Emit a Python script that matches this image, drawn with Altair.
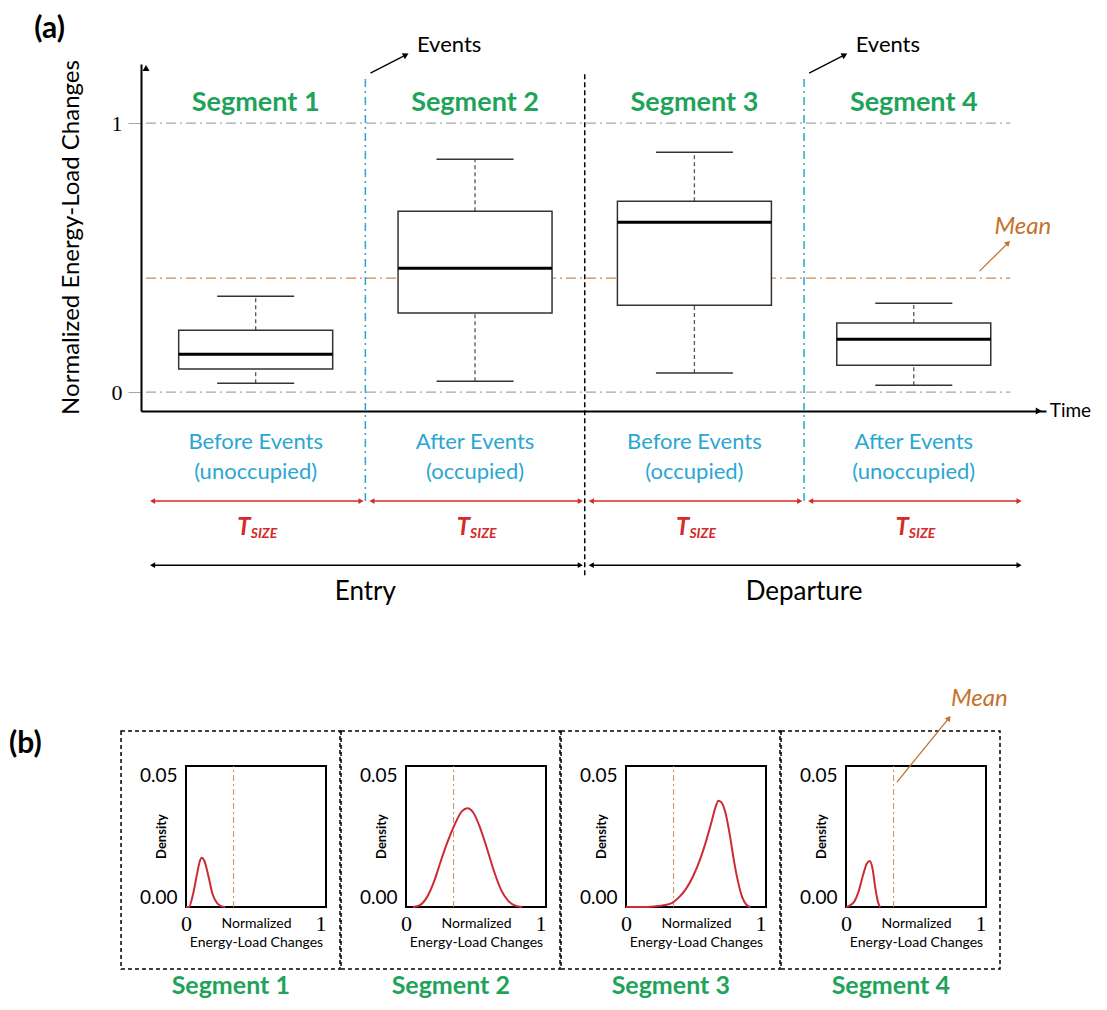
import altair as alt
import pandas as pd

FONT = "Lato, 'Open Sans', sans-serif"
SERIF = "'Liberation Serif', 'DejaVu Serif', serif"
GREEN = "#1fa35b"
BLUE = "#2ba6d3"
RED = "#d42a2a"
CURVE = "#cc2a36"
ORANGE = "#c4722c"
MEANLINE = "#c98a55"
GRID = "#a6a6a6"

# ---------------- data (a) ----------------
segments = ["Segment 1", "Segment 2", "Segment 3", "Segment 4"]
seg_center = [0.5, 1.5, 2.5, 3.5]
whisker_low = [0.033, 0.041, 0.071, 0.026]
q1 = [0.086, 0.294, 0.323, 0.100]
median = [0.141, 0.461, 0.632, 0.197]
q3 = [0.230, 0.673, 0.710, 0.257]
whisker_high = [0.357, 0.866, 0.892, 0.331]
mean_value = 0.424
y_ticks = [0, 1]
state_line1 = ["Before Events", "After Events", "Before Events", "After Events"]
state_line2 = ["(unoccupied)", "(occupied)", "(occupied)", "(unoccupied)"]
phases = ["Entry", "Departure"]
phase_start = [0, 2]
phase_end = [2, 4]
event_times = [1, 3]
phase_break = [2]

# ---------------- data (b) ----------------
density_mean = 0.34
dens1_x = [0.0, 0.02, 0.05, 0.08, 0.10, 0.113, 0.13, 0.16, 0.19, 0.22, 0.25, 0.28]
dens1_y = [0.0, 0.0, 0.0045, 0.012, 0.0165, 0.0175, 0.0165, 0.011, 0.0045, 0.0015, 0.0003, 0.0]
dens2_x = [0.05, 0.10, 0.15, 0.20, 0.25, 0.30, 0.35, 0.40, 0.44, 0.48, 0.53, 0.58, 0.63, 0.68, 0.73, 0.78, 0.83]
dens2_y = [0.0, 0.0007, 0.0035, 0.009, 0.0165, 0.0235, 0.0295, 0.034, 0.035, 0.0335, 0.028, 0.0205, 0.0125, 0.006, 0.0022, 0.0005, 0.0]
dens3_x = [0.0, 0.10, 0.20, 0.28, 0.33, 0.38, 0.43, 0.48, 0.53, 0.57, 0.61, 0.64, 0.66, 0.68, 0.71, 0.74, 0.77, 0.80, 0.83, 0.86, 0.89]
dens3_y = [0.0, 0.0, 0.0002, 0.0007, 0.0015, 0.0035, 0.0065, 0.011, 0.017, 0.023, 0.030, 0.0355, 0.0377, 0.0372, 0.0335, 0.026, 0.0167, 0.009, 0.0035, 0.0008, 0.0]
dens4_x = [0.0, 0.03, 0.06, 0.09, 0.12, 0.15, 0.17, 0.19, 0.21, 0.23, 0.245]
dens4_y = [0.0, 0.0006, 0.002, 0.0055, 0.011, 0.0155, 0.0163, 0.0135, 0.0065, 0.0015, 0.0]
dens_x = [dens1_x, dens2_x, dens3_x, dens4_x]
dens_y = [dens1_y, dens2_y, dens3_y, dens4_y]

# ---------------- panel (a) ----------------
XS = alt.Scale(domain=[0, 4.08], nice=False, zero=False)
YS = alt.Scale(domain=[-0.07, 1.22], nice=False, zero=False)
AX_X = alt.Axis(labels=False, ticks=False, grid=False, domainColor="black",
                domainWidth=2, title=None)
AX_Y = alt.Axis(values=y_ticks, format="d", grid=False, labelFont=SERIF,
                labelFontSize=22, labelColor="black", labelPadding=6,
                tickColor=GRID, tickSize=13, tickWidth=1, domainColor="black",
                domainWidth=2, title="Normalized Energy-Load Changes",
                titleFont=FONT, titleFontSize=24, titleFontWeight="normal",
                titleColor="black", titleX=-70, titleY=173,
                titleBaseline="middle", titleAngle=270)


def xf(f):
    return alt.X(f, type="quantitative", scale=XS, axis=AX_X)


def xd(v):
    return alt.X(datum=v, scale=XS, axis=AX_X)


def yf(f):
    return alt.Y(f, type="quantitative", scale=YS, axis=AX_Y)


def yd(v):
    return alt.Y(datum=v, scale=YS, axis=AX_Y)


box_df = pd.DataFrame({"segment": segments, "center": seg_center,
                       "low": whisker_low, "q1": q1, "med": median,
                       "q3": q3, "high": whisker_high,
                       "line1": state_line1, "line2": state_line2})
grid_df = pd.DataFrame({"v": y_ticks})
events_df = pd.DataFrame({"t": event_times})
break_df = pd.DataFrame({"t": phase_break})
phase_df = pd.DataFrame({"phase": phases, "s": phase_start, "e": phase_end})
one = pd.DataFrame({"k": [0]})

grid = alt.Chart(grid_df).mark_rule(color=GRID, strokeDash=[10, 4, 2, 4], strokeWidth=1.2).encode(
    y=yf("v"), x=xd(0), x2=alt.X2(datum=3.94))
mean_rule = alt.Chart(one).mark_rule(color=MEANLINE, strokeDash=[10, 4, 2, 4], strokeWidth=1.2).encode(
    y=yd(mean_value), x=xd(0), x2=alt.X2(datum=3.94))
whisk_lo = alt.Chart(box_df).mark_rule(color="#555555", strokeDash=[4, 3], strokeWidth=1.3).encode(
    x=xf("center"), y=yf("low"), y2=alt.Y2("q1"))
whisk_hi = alt.Chart(box_df).mark_rule(color="#555555", strokeDash=[4, 3], strokeWidth=1.3).encode(
    x=xf("center"), y=yf("q3"), y2=alt.Y2("high"))
cap_lo = alt.Chart(box_df).mark_tick(orient="horizontal", size=77, thickness=1.5, color="#333333", opacity=1).encode(
    x=xf("center"), y=yf("low"))
cap_hi = alt.Chart(box_df).mark_tick(orient="horizontal", size=77, thickness=1.5, color="#333333", opacity=1).encode(
    x=xf("center"), y=yf("high"))
boxes = alt.Chart(box_df).mark_bar(size=154, fill="white", stroke="#333333", strokeWidth=1.5).encode(
    x=xf("center"), y=yf("q1"), y2=alt.Y2("q3"))
medians = alt.Chart(box_df).mark_tick(orient="horizontal", size=154, thickness=3, color="black", opacity=1).encode(
    x=xf("center"), y=yf("med"))
seg_text = alt.Chart(box_df).mark_text(font=FONT, fontSize=27, fontWeight="bold", color=GREEN).encode(
    x=xf("center"), y=yd(1.074), text="segment:N")

ev_rule = alt.Chart(events_df).mark_rule(color=BLUE, strokeDash=[8, 4, 2, 4], strokeWidth=1.5).encode(
    x=xf("t"), y=yd(1.164), y2=alt.Y2(datum=-0.409))
br_rule = alt.Chart(break_df).mark_rule(color="black", strokeDash=[5, 3], strokeWidth=1.5).encode(
    x=xf("t"), y=yd(1.182), y2=alt.Y2(datum=-0.688))
ev_arrow = alt.Chart(events_df).transform_calculate(a="datum.t + 0.023", b="datum.t + 0.185").mark_rule(
    color="black", strokeWidth=1.3).encode(x=xf("a"), x2=alt.X2("b"), y=yd(1.186), y2=alt.Y2(datum=1.254))
ev_head = alt.Chart(events_df).transform_calculate(b="datum.t + 0.185").mark_point(
    shape="triangle-up", angle=63, filled=True, size=45, color="black", opacity=1).encode(
    x=xf("b"), y=yd(1.254))
ev_text = alt.Chart(events_df).transform_calculate(c="datum.t + 0.235").mark_text(
    text="Events", align="left", font=FONT, fontSize=22, color="black").encode(x=xf("c"), y=yd(1.29))

mean_arrow = alt.Chart(one).mark_rule(color=ORANGE, strokeWidth=1.3).encode(
    x=xd(3.80), x2=alt.X2(datum=3.93), y=yd(0.45), y2=alt.Y2(datum=0.555))
mean_head = alt.Chart(one).mark_point(shape="triangle-up", angle=46, filled=True, size=40, color=ORANGE, opacity=1).encode(
    x=xd(3.93), y=yd(0.555))
mean_text = alt.Chart(one).mark_text(text="Mean", align="left", font=FONT, fontSize=24, fontStyle="italic", color=ORANGE).encode(
    x=xd(3.868), y=yd(0.613))

y_head = alt.Chart(one).mark_point(shape="triangle-up", filled=True, size=50, color="black", opacity=1).encode(
    x=xd(0), y=yd(1.205))
x_head = alt.Chart(one).mark_point(shape="triangle-right", filled=True, size=50, color="black", opacity=1).encode(
    x=xd(4.07), y=yd(-0.07))
time_text = alt.Chart(one).mark_text(text="Time", align="left", font=FONT, fontSize=19, color="black").encode(
    x=xd(4.12), y=yd(-0.07))

st1 = alt.Chart(box_df).mark_text(font=FONT, fontSize=22, color=BLUE).encode(
    x=xf("center"), y=yd(-0.186), text="line1:N")
st2 = alt.Chart(box_df).mark_text(font=FONT, fontSize=22, color=BLUE).encode(
    x=xf("center"), y=yd(-0.297), text="line2:N")

red_line = alt.Chart(box_df).transform_calculate(s="datum.center - 0.47", e="datum.center + 0.48").mark_rule(
    color=RED, strokeWidth=1.5).encode(x=xf("s"), x2=alt.X2("e"), y=yd(-0.405))
red_l = alt.Chart(box_df).transform_calculate(s="datum.center - 0.47").mark_point(
    shape="triangle-left", filled=True, size=35, color=RED, opacity=1).encode(x=xf("s"), y=yd(-0.405))
red_r = alt.Chart(box_df).transform_calculate(e="datum.center + 0.48").mark_point(
    shape="triangle-right", filled=True, size=35, color=RED, opacity=1).encode(x=xf("e"), y=yd(-0.405))
t_big = alt.Chart(box_df).mark_text(text="T", align="right", dx=-5, font=FONT, fontSize=24, fontWeight="bold",
                                     fontStyle="italic", color=RED).encode(x=xf("center"), y=yd(-0.505))
t_small = alt.Chart(box_df).mark_text(text="SIZE", align="left", dx=-5, dy=6, font=FONT, fontSize=14, fontWeight="bold",
                                       fontStyle="italic", color=RED).encode(x=xf("center"), y=yd(-0.505))

ph_line = alt.Chart(phase_df).transform_calculate(a="datum.s + 0.03", b="datum.e - 0.02").mark_rule(
    color="black", strokeWidth=1.5).encode(x=xf("a"), x2=alt.X2("b"), y=yd(-0.643))
ph_l = alt.Chart(phase_df).transform_calculate(a="datum.s + 0.03").mark_point(
    shape="triangle-left", filled=True, size=35, color="black", opacity=1).encode(x=xf("a"), y=yd(-0.643))
ph_r = alt.Chart(phase_df).transform_calculate(b="datum.e - 0.02").mark_point(
    shape="triangle-right", filled=True, size=35, color="black", opacity=1).encode(x=xf("b"), y=yd(-0.643))
ph_text = alt.Chart(phase_df).transform_calculate(m="(datum.s + datum.e) / 2").mark_text(
    font=FONT, fontSize=26, color="black").encode(x=xf("m"), y=yd(-0.743), text="phase:N")

a_label = alt.Chart(one).mark_text(text="(a)", align="left", font=FONT, fontSize=30, fontWeight="bold", color="black").encode(
    x=xd(-0.509), y=yd(1.349))

panel_a = alt.layer(
    grid, mean_rule, ev_rule, br_rule, whisk_lo, whisk_hi, cap_lo, cap_hi, boxes, medians,
    seg_text, ev_arrow, ev_head, ev_text, mean_arrow, mean_head, mean_text,
    y_head, x_head, time_text, st1, st2, red_line, red_l, red_r, t_big, t_small,
    ph_line, ph_l, ph_r, ph_text, a_label
).properties(width=905, height=347)

# ---------------- panel (b) ----------------
# plot area extended 45px to the left of the density frame so that the
# first panel's origin lines up with panel (a)'s origin
XSB = alt.Scale(domain=[-45 / 140, 1], nice=False, zero=False)
YSB = alt.Scale(domain=[0, 0.05], nice=False, zero=False)
AXB_X = alt.Axis(values=[0, 1], format="d", labelFont=SERIF, labelFontSize=22, labelColor="black",
                 labelPadding=6, ticks=False, domain=False, grid=False,
                 title=["Normalized", "Energy-Load Changes"], titleFont=FONT, titleFontSize=14,
                 titleFontWeight="normal", titleColor="black", titleX=115, titleY=9,
                 titleBaseline="top", titleLineHeight=19)
AXB_Y = alt.Axis(values=[0, 0.05], format=".2f", labelFont=FONT, labelFontSize=19, labelColor="black",
                 labelFlush=True, labelPadding=9, ticks=False, domain=False, grid=False, offset=-45,
                 title="Density", titleFont=FONT, titleFontSize=13, titleFontWeight="bold",
                 titleColor="black", titleX=-25, titleY=70, titleBaseline="middle", titleAngle=270)


def bx(f):
    return alt.X(f, type="quantitative", scale=XSB, axis=AXB_X)


def bxd(v):
    return alt.X(datum=v, scale=XSB, axis=AXB_X)


def by(f):
    return alt.Y(f, type="quantitative", scale=YSB, axis=AXB_Y)


def byd(v):
    return alt.Y(datum=v, scale=YSB, axis=AXB_Y)


def make_panel(k):
    d = pd.DataFrame({"x": dens_x[k], "y": dens_y[k]})
    outer = alt.Chart(one).mark_rect(fillOpacity=0, stroke="black", strokeWidth=1.5, strokeDash=[4, 3]).encode(
        x=bxd(-0.464), x2=alt.X2(datum=1.100), y=byd(0.0624), y2=alt.Y2(datum=-0.022))
    frame = alt.Chart(one).mark_rect(fillOpacity=0, stroke="black", strokeWidth=2).encode(
        x=bxd(0), x2=alt.X2(datum=1), y=byd(0.05), y2=alt.Y2(datum=0))
    mrule = alt.Chart(one).mark_rule(color=MEANLINE, strokeDash=[6, 3, 2, 3], strokeWidth=1).encode(
        x=bxd(density_mean), y=byd(0), y2=alt.Y2(datum=0.05))
    curve = alt.Chart(d).mark_line(color=CURVE, strokeWidth=2, interpolate="monotone").encode(
        x=bx("x"), y=by("y"))
    label = alt.Chart(one).mark_text(text=segments[k], font=FONT, fontSize=25, fontWeight="bold", color=GREEN).encode(
        x=bxd(0.32), y=byd(-0.028))
    layers = [outer, frame, mrule, curve, label]
    if k == 0:
        layers.append(alt.Chart(one).mark_text(text="(b)", align="left", font=FONT, fontSize=30,
                                               fontWeight="bold", color="black").encode(
            x=bxd(-1.264), y=byd(0.0578)))
    if k == 3:
        layers.append(alt.Chart(one).mark_rule(color=ORANGE, strokeWidth=1.3).encode(
            x=bxd(0.364), x2=alt.X2(datum=0.735), y=byd(0.0443), y2=alt.Y2(datum=0.067)))
        layers.append(alt.Chart(one).mark_point(shape="triangle-up", angle=39, filled=True, size=40,
                                                color=ORANGE, opacity=1).encode(
            x=bxd(0.735), y=byd(0.067)))
        layers.append(alt.Chart(one).mark_text(text="Mean", align="left", font=FONT, fontSize=24,
                                               fontStyle="italic", color=ORANGE).encode(
            x=bxd(0.75), y=byd(0.0738)))
    return alt.layer(*layers).properties(width=185, height=141)


panels_b = [make_panel(k) for k in range(4)]

chart = alt.vconcat(
    panel_a,
    alt.hconcat(*panels_b, spacing=-3),
    spacing=80,
).properties(
    padding={"left": 0, "top": 5, "right": 0, "bottom": 0}
).configure_view(stroke="transparent")

chart.save("out.html", embed_options={"renderer": "svg", "actions": False})
